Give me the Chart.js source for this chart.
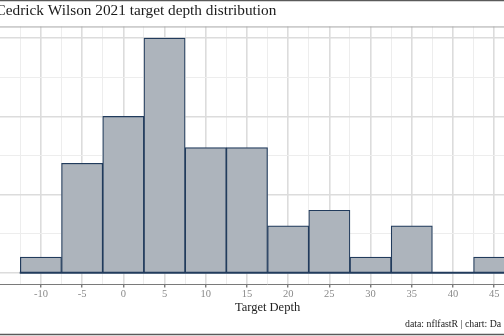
<!DOCTYPE html>
<html>
<head>
<meta charset="utf-8">
<script src="https://cdn.jsdelivr.net/npm/chart.js@4.4.0/dist/chart.umd.min.js"></script>
<style>
  html, body { margin: 0; padding: 0; background: #fff; overflow: hidden; }
  #wrap { position: absolute; left: -20px; top: 0; width: 580px; height: 336px; }
</style>
</head>
<body>
<div id="wrap"><canvas id="depthChart"></canvas></div>
<script>
// 5-yard target depth bins (bin centres) and targets per bin
var binCenters = [-10, -5, 0, 5, 10, 15, 20, 25, 30, 35, 40, 45];
var targetCounts = [1, 7, 10, 15, 8, 8, 3, 4, 1, 3, 0, 1];
var binWidth = 5;

// grid breaks: labelled every 5, minor lines half way between
var xBreaks = [-12.5, -10, -7.5, -5, -2.5, 0, 2.5, 5, 7.5, 10, 12.5, 15, 17.5, 20,
               22.5, 25, 27.5, 30, 32.5, 35, 37.5, 40, 42.5, 45, 47.5];
var yBreaks = [0, 2.5, 5, 7.5, 10, 12.5, 15];

var titleText = 'Cedrick Wilson 2021 target depth distribution';
var xTitle = 'Target Depth';
var captionText = 'data: nflfastR | chart: Da';

var serif = "'Liberation Serif', 'Times New Roman', serif";
var barEdge = '#213b5c';

var firstEdge = binCenters[0] - binWidth / 2;
var lastEdge = binCenters[binCenters.length - 1] + binWidth / 2;
var xPad = (lastEdge - firstEdge) * 0.05;
var yMax = Math.max.apply(null, targetCounts);

function isMajor(c) {
    return !!(c && c.tick) && Math.abs(c.tick.value % 5) < 1e-9;
}

// panel outline, histogram base line, plot frame and caption
var framePlugin = {
    id: 'frame',
    beforeDatasetsDraw: function (chart) {
        var ctx = chart.ctx, a = chart.chartArea;
        ctx.save();
        ctx.strokeStyle = '#a6a6a6';
        ctx.lineWidth = 1;
        ctx.beginPath();
        ctx.moveTo(a.left, a.top + 0.5);
        ctx.lineTo(a.right, a.top + 0.5);
        ctx.stroke();
        ctx.restore();
    },
    afterDatasetsDraw: function (chart) {
        // bottom edge of every bin, empty ones included
        var ctx = chart.ctx, xs = chart.scales.x, ys = chart.scales.y;
        var y0 = ys.getPixelForValue(0);
        ctx.save();
        ctx.strokeStyle = barEdge;
        ctx.lineWidth = 2;
        ctx.beginPath();
        ctx.moveTo(xs.getPixelForValue(firstEdge) - 0.6, y0);
        ctx.lineTo(xs.getPixelForValue(lastEdge) + 0.6, y0);
        ctx.stroke();
        ctx.restore();
    },
    afterDraw: function (chart) {
        var ctx = chart.ctx;
        ctx.save();
        ctx.strokeStyle = '#5a5a5a';
        ctx.lineWidth = 1.5;
        ctx.beginPath();
        ctx.moveTo(0, 0.5);
        ctx.lineTo(chart.width, 0.5);
        ctx.moveTo(0, 334.5);
        ctx.lineTo(chart.width, 334.5);
        ctx.stroke();
        ctx.fillStyle = '#222';
        ctx.font = '9.8px ' + serif;
        ctx.textBaseline = 'middle';
        ctx.textAlign = 'left';
        ctx.fillText(captionText, 425, 324);
        ctx.restore();
    }
};

var ctxDepth = document.getElementById('depthChart').getContext('2d');
var depthChart = new Chart(ctxDepth, {
    type: 'bar',
    data: {
        datasets: [{
            label: 'Targets',
            data: binCenters.map(function (c, i) { return { x: c, y: targetCounts[i] }; }),
            backgroundColor: '#adb4bc',
            borderColor: barEdge,
            borderWidth: 1.2,
            borderSkipped: 'start',
            barThickness: 'flex',
            barPercentage: 1,
            categoryPercentage: 1
        }]
    },
    options: {
        responsive: true,
        maintainAspectRatio: false,
        animation: false,
        layout: {
            padding: { left: 15.6, right: 20.5, top: 0, bottom: 22 }
        },
        plugins: {
            legend: { display: false },
            tooltip: { enabled: false },
            title: {
                display: true,
                text: titleText,
                align: 'start',
                color: '#1a1a1a',
                font: { family: serif, size: 15.3, weight: 'normal' },
                padding: { top: 1.5, bottom: 6.6 }
            }
        },
        scales: {
            x: {
                type: 'linear',
                offset: false,
                min: firstEdge - xPad,
                max: lastEdge + xPad,
                afterBuildTicks: function (scale) {
                    scale.ticks = xBreaks.map(function (v) { return { value: v }; });
                },
                afterFit: function (scale) { scale.height = 29.5; },
                ticks: {
                    autoSkip: false,
                    maxRotation: 0,
                    padding: 1,
                    color: '#8a8a8a',
                    font: { family: serif, size: 10.5, lineHeight: 1 },
                    callback: function (v) { return Math.abs(v % 5) < 1e-9 ? String(v) : ''; }
                },
                grid: {
                    offset: false,
                    color: function (c) { return isMajor(c) ? '#dcdcdc' : '#ededed'; },
                    lineWidth: function (c) { return isMajor(c) ? 1.6 : 1; },
                    tickColor: function (c) { return isMajor(c) ? '#444' : 'rgba(0,0,0,0)'; },
                    tickLength: 3,
                    tickWidth: 1
                },
                border: { display: true, color: '#7a7a7a', width: 1 },
                title: {
                    display: true,
                    text: xTitle,
                    color: '#222',
                    font: { family: serif, size: 12.5, lineHeight: 1 },
                    padding: { top: 0, bottom: 0 }
                }
            },
            y: {
                type: 'linear',
                min: -yMax * 0.05,
                max: yMax * 1.05,
                afterBuildTicks: function (scale) {
                    scale.ticks = yBreaks.map(function (v) { return { value: v }; });
                },
                ticks: { display: false },
                grid: {
                    drawTicks: false,
                    color: function (c) { return isMajor(c) ? '#dcdcdc' : '#ededed'; },
                    lineWidth: function (c) { return isMajor(c) ? 1.6 : 1; }
                },
                border: { display: false }
            }
        }
    },
    plugins: [framePlugin]
});
</script>
</body>
</html>
